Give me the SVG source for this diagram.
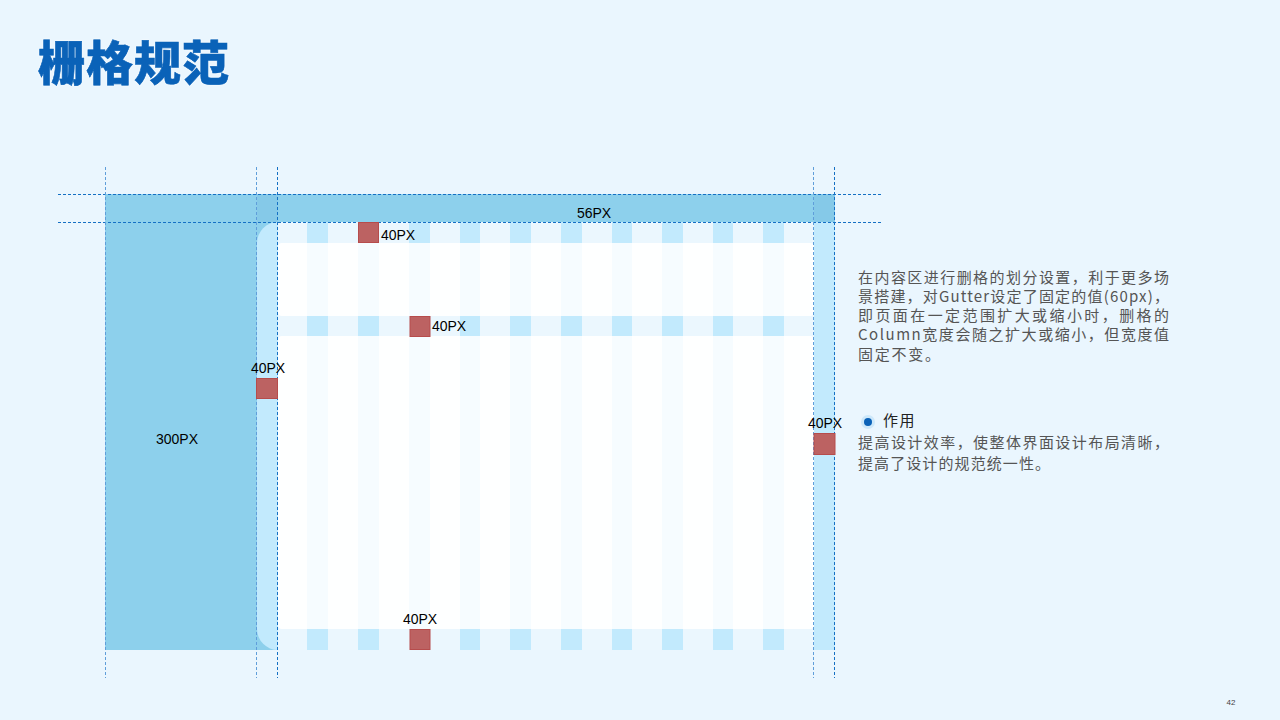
<svg xmlns="http://www.w3.org/2000/svg" width="1280" height="720" viewBox="0 0 1280 720">
<defs>
<style>
.side{fill:#8DD0EC}
.gut{fill:#C2EAFD}
.band{fill:#EBF7FE}
.cell{fill:#C2EAFD}
.panel{fill:#FEFFFF}
.col{fill:#F6FCFF}
.red{fill:#BC6262;stroke:#B64C4C;stroke-width:1}
.dash{stroke:#1470C4;stroke-width:1;stroke-dasharray:3 2;fill:none}
.faint{stroke:#5F9EDA}
.lab{font-family:"Liberation Sans",Arial,sans-serif;font-size:14px;fill:#000;text-anchor:middle}
.body{font-family:"Noto Sans CJK SC","Noto Sans",sans-serif;font-size:15px;fill:#555}
.head{font-family:"Noto Sans CJK SC",sans-serif;font-size:15px;letter-spacing:1.4px;fill:#222}
.title{font-family:"Noto Sans CJK SC",sans-serif;font-size:47px;font-weight:900;letter-spacing:1px;fill:#0A62B8;stroke:#0A62B8;stroke-width:.6;filter:drop-shadow(0 0 1px #FFFFFF)}
</style>
</defs>
<rect width="1280" height="720" fill="#EAF6FE"/>
<text class="title" x="38" y="80">栅格规范</text>
<g id="grid">
<rect class="side" x="105" y="194" width="180" height="456"/>
<rect class="gut" x="257" y="222" width="578" height="428" rx="21"/>
<rect class="gut" x="800" y="222" width="35" height="428"/>
<rect class="band" x="278" y="222" width="536" height="428"/>
<g id="panels">
<rect class="panel" x="278" y="243" width="536" height="73" rx="4"/>
<rect class="panel" x="278" y="336" width="536" height="293" rx="4"/>
</g>
<g id="columns">
<rect class="col" x="307" y="243" width="21" height="73"/><rect class="col" x="358" y="243" width="21" height="73"/><rect class="col" x="409" y="243" width="21" height="73"/><rect class="col" x="460" y="243" width="20" height="73"/><rect class="col" x="510" y="243" width="21" height="73"/><rect class="col" x="561" y="243" width="21" height="73"/><rect class="col" x="612" y="243" width="20" height="73"/><rect class="col" x="662" y="243" width="21" height="73"/><rect class="col" x="713" y="243" width="20" height="73"/><rect class="col" x="763" y="243" width="21" height="73"/>
<rect class="col" x="307" y="336" width="21" height="293"/><rect class="col" x="358" y="336" width="21" height="293"/><rect class="col" x="409" y="336" width="21" height="293"/><rect class="col" x="460" y="336" width="20" height="293"/><rect class="col" x="510" y="336" width="21" height="293"/><rect class="col" x="561" y="336" width="21" height="293"/><rect class="col" x="612" y="336" width="20" height="293"/><rect class="col" x="662" y="336" width="21" height="293"/><rect class="col" x="713" y="336" width="20" height="293"/><rect class="col" x="763" y="336" width="21" height="293"/>
</g>
<g id="cells">
<rect class="cell" x="307" y="222" width="21" height="21"/><rect class="cell" x="409" y="222" width="21" height="21"/><rect class="cell" x="460" y="222" width="20" height="21"/><rect class="cell" x="510" y="222" width="21" height="21"/><rect class="cell" x="561" y="222" width="21" height="21"/><rect class="cell" x="612" y="222" width="20" height="21"/><rect class="cell" x="662" y="222" width="21" height="21"/><rect class="cell" x="713" y="222" width="20" height="21"/><rect class="cell" x="763" y="222" width="21" height="21"/>
<rect class="cell" x="307" y="316" width="21" height="20"/><rect class="cell" x="358" y="316" width="21" height="20"/><rect class="cell" x="460" y="316" width="20" height="20"/><rect class="cell" x="510" y="316" width="21" height="20"/><rect class="cell" x="561" y="316" width="21" height="20"/><rect class="cell" x="612" y="316" width="20" height="20"/><rect class="cell" x="662" y="316" width="21" height="20"/><rect class="cell" x="713" y="316" width="20" height="20"/><rect class="cell" x="763" y="316" width="21" height="20"/>
<rect class="cell" x="307" y="629" width="21" height="21"/><rect class="cell" x="358" y="629" width="21" height="21"/><rect class="cell" x="460" y="629" width="20" height="21"/><rect class="cell" x="510" y="629" width="21" height="21"/><rect class="cell" x="561" y="629" width="21" height="21"/><rect class="cell" x="612" y="629" width="20" height="21"/><rect class="cell" x="662" y="629" width="21" height="21"/><rect class="cell" x="713" y="629" width="20" height="21"/><rect class="cell" x="763" y="629" width="21" height="21"/>
</g>
<rect class="side" x="105" y="194" width="730" height="28"/>
<rect x="257" y="194" width="21" height="28" fill="#85C9E8"/>
<rect x="814" y="194" width="21" height="28" fill="#85C9E8"/>
</g>
<g id="connectors">
<path class="dash" d="M58 194.500H883M58 222.500H883"/>
<path class="dash faint" d="M105.500 167V678M256.500 167V678M813.500 167V678"/>
<path class="dash" d="M277.500 167V678M834.500 167V678"/>
</g>
<g id="gap-top"><rect class="red" x="358.500" y="222.500" width="20" height="20"/><text class="lab" x="398" y="240">40PX</text></g>
<g id="gap-mid"><rect class="red" x="410" y="316.500" width="20" height="20"/><text class="lab" x="449" y="331">40PX</text></g>
<g id="gap-left"><rect class="red" x="256.500" y="378.500" width="21" height="20"/><text class="lab" x="268" y="373">40PX</text></g>
<g id="gap-right"><rect class="red" x="814" y="433.500" width="21" height="21" stroke="none"/><text class="lab" x="825" y="428">40PX</text></g>
<g id="gap-bottom"><rect class="red" x="410" y="629.500" width="20" height="20"/><text class="lab" x="420" y="624">40PX</text></g>
<g id="label-56"><text class="lab" x="594" y="218">56PX</text></g>
<g id="label-300"><text class="lab" x="177" y="444">300PX</text></g>
<g id="desc">
<text class="body" x="858" y="283" textLength="311">在内容区进行删格的划分设置，利于更多场</text>
<text class="body" x="858" y="302" textLength="311">景搭建，对Gutter设定了固定的值(60px)，</text>
<text class="body" x="858" y="321" textLength="311">即页面在一定范围扩大或缩小时，删格的</text>
<text class="body" x="858" y="340" textLength="311">Column宽度会随之扩大或缩小，但宽度值</text>
<text class="body" x="858" y="360" textLength="82">固定不变。</text>
</g>
<g id="effect">
<circle cx="868" cy="422" r="7" fill="#CDE8FA"/>
<circle cx="868" cy="422" r="4" fill="#0A62B8"/>
<text class="head" x="883" y="426">作用</text>
<text class="body" x="858" y="448" textLength="311">提高设计效率，使整体界面设计布局清晰，</text>
<text class="body" x="858" y="469" textLength="192">提高了设计的规范统一性。</text>
</g>
<text x="1231" y="705" font-family="'Liberation Sans',sans-serif" font-size="8" fill="#444" text-anchor="middle">42</text>
</svg>
